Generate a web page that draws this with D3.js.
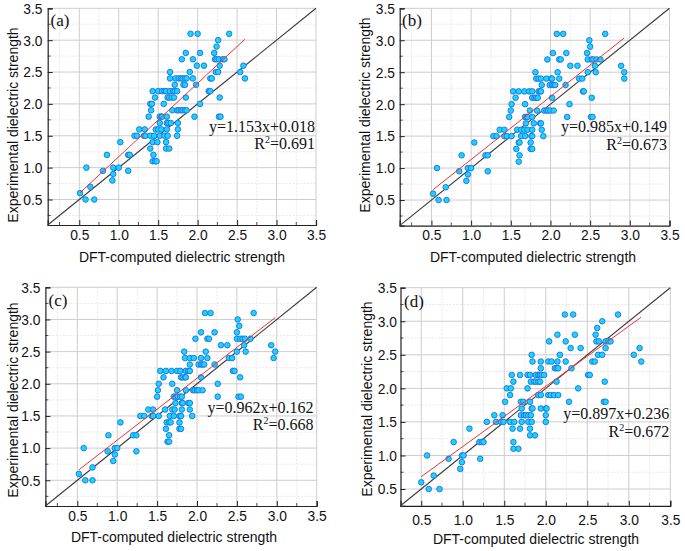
<!DOCTYPE html>
<html><head><meta charset="utf-8">
<script src="https://cdn.jsdelivr.net/npm/d3@7"></script>
<style>
body{margin:0;background:#fff;}
svg{display:block;}
</style></head>
<body>
<svg id="chart" width="685" height="551"></svg>
<script>
// ---------------- DATA ----------------
const panelLabels = ["(a)", "(b)", "(c)", "(d)"];
const tickValues = [0.5, 1.0, 1.5, 2.0, 2.5, 3.0, 3.5];
const tickLabels = ["0.5", "1.0", "1.5", "2.0", "2.5", "3.0", "3.5"];
const xTitle = "DFT-computed dielectric strength";
const yTitle = "Experimental dielectric strength";
const fitSlopes = [1.153, 0.985, 0.962, 0.897];
const fitIntercepts = [0.018, 0.149, 0.162, 0.236];
const fitEquations = ["y=1.153x+0.018", "y=0.985x+0.149", "y=0.962x+0.162", "y=0.897x+0.236"];
const fitR2 = ["0.691", "0.673", "0.668", "0.672"];

const pointsA = [
[0.51,0.6],[0.58,0.5],[0.59,1.0],[0.64,0.7],[0.69,0.5],[0.80,0.95],[0.85,1.2],[0.92,0.8],[0.93,0.9],[0.93,1.0],
[1.00,1.0],[1.02,1.4],[1.12,1.2],[1.14,1.2],[1.12,0.95],[1.20,1.5],[1.23,1.5],[1.26,1.6],[1.32,1.5],[1.34,1.5],
[1.33,1.6],[1.38,1.8],[1.40,2.0],[1.42,2.0],[1.41,1.9],[1.40,1.5],[1.40,1.3],[1.43,1.4],[1.43,2.2],[1.43,1.1],
[1.46,1.1],[1.48,1.1],[1.44,1.2],[1.45,1.5],[1.46,2.1],[1.47,1.6],[1.50,1.6],[1.49,1.4],[1.50,2.2],[1.52,1.8],
[1.54,1.8],[1.55,1.8],[1.52,1.5],[1.52,1.7],[1.54,1.6],[1.55,2.2],[1.57,2.0],[1.58,2.2],[1.60,2.2],[1.58,1.5],
[1.60,1.4],[1.60,1.3],[1.61,1.8],[1.61,1.7],[1.63,1.7],[1.61,1.6],[1.62,1.5],[1.62,2.1],[1.64,2.1],[1.64,1.3],
[1.65,2.4],[1.65,2.5],[1.65,2.2],[1.66,1.7],[1.67,2.1],[1.70,2.1],[1.68,1.9],[1.69,2.2],[1.71,2.2],[1.74,2.2],
[1.71,2.3],[1.72,2.4],[1.74,1.9],[1.76,1.9],[1.79,1.9],[1.81,1.9],[1.84,1.9],[1.86,1.9],[1.74,1.5],[1.75,1.6],
[1.75,1.7],[1.76,2.4],[1.79,2.4],[1.81,2.4],[1.84,2.4],[1.86,2.4],[1.80,2.7],[1.82,2.3],[1.84,2.3],[1.85,2.1],
[1.85,2.8],[1.90,2.5],[1.91,3.1],[1.94,2.7],[1.94,2.4],[1.96,1.8],[1.99,2.6],[1.98,2.3],[2.00,3.1],[2.03,2.8],
[2.03,2.0],[2.08,2.6],[2.14,2.2],[2.16,2.2],[2.16,2.4],[2.18,2.4],[2.21,2.8],[2.22,2.7],[2.24,2.7],[2.24,2.9],
[2.23,2.5],[2.26,2.5],[2.26,3.0],[2.27,2.7],[2.28,2.6],[2.28,2.1],[2.27,1.8],[2.29,1.8],[2.32,2.7],[2.34,2.7],
[2.40,3.1],[2.54,2.5],[2.58,2.6],[2.60,2.4]
];
const pointsB = [
[0.52,0.6],[0.57,1.0],[0.59,0.5],[0.68,0.7],[0.69,0.5],[0.85,0.95],[0.88,1.2],[0.94,0.8],[0.96,0.9],[0.96,1.0],
[1.00,1.0],[1.04,1.4],[1.18,1.2],[1.21,1.2],[1.21,0.95],[1.28,1.5],[1.32,1.5],[1.36,1.6],[1.42,1.6],[1.42,1.5],
[1.45,1.5],[1.48,1.8],[1.50,1.9],[1.51,2.0],[1.53,2.2],[1.51,1.5],[1.56,2.1],[1.57,1.3],[1.58,1.6],[1.60,2.2],
[1.60,1.4],[1.61,1.4],[1.60,1.1],[1.61,1.2],[1.63,1.5],[1.63,1.6],[1.67,2.2],[1.68,2.0],[1.67,1.6],[1.68,1.8],
[1.70,1.8],[1.71,1.8],[1.68,1.5],[1.69,1.7],[1.71,1.6],[1.73,2.2],[1.74,1.9],[1.76,1.5],[1.77,1.5],[1.75,1.4],
[1.75,1.3],[1.77,1.3],[1.77,1.8],[1.77,2.1],[1.80,2.1],[1.82,2.1],[1.84,2.1],[1.77,2.2],[1.77,1.6],[1.79,1.7],
[1.81,2.5],[1.82,2.4],[1.85,2.4],[1.83,1.9],[1.85,2.2],[1.87,2.2],[1.88,2.2],[1.87,1.7],[1.88,1.7],[1.88,2.4],
[1.89,2.3],[1.89,1.6],[1.91,1.5],[1.92,1.9],[1.95,1.9],[1.97,1.9],[2.00,1.9],[2.04,1.9],[1.95,2.4],[1.96,2.7],
[1.99,2.3],[2.02,2.3],[2.04,2.3],[2.06,2.3],[2.01,2.4],[2.02,2.4],[2.02,2.1],[2.03,2.8],[2.08,3.1],[2.09,2.5],
[2.11,2.7],[2.13,2.7],[2.11,2.4],[2.16,3.1],[2.19,2.3],[2.20,2.8],[2.21,1.8],[2.24,2.0],[2.25,2.6],[2.34,2.6],
[2.36,2.4],[2.40,2.4],[2.41,2.2],[2.42,2.2],[2.46,2.8],[2.47,2.7],[2.47,2.5],[2.49,3.0],[2.50,2.9],[2.52,2.7],
[2.54,2.7],[2.52,2.1],[2.51,1.8],[2.53,1.8],[2.56,2.6],[2.57,2.5],[2.58,2.7],[2.63,2.7],[2.69,3.1],[2.89,2.6],
[2.93,2.5],[2.93,2.4]
];
const pointsC = [
[0.52,0.6],[0.58,1.0],[0.60,0.5],[0.69,0.7],[0.69,0.5],[0.88,0.95],[0.89,1.2],[0.95,0.8],[0.97,0.9],[0.97,1.0],
[1.00,1.0],[1.04,1.4],[1.20,1.2],[1.24,1.2],[1.24,0.95],[1.29,1.5],[1.34,1.5],[1.39,1.6],[1.43,1.5],[1.45,1.5],
[1.45,1.6],[1.50,1.8],[1.51,1.9],[1.52,2.0],[1.54,2.2],[1.52,1.5],[1.58,2.1],[1.60,1.6],[1.61,2.2],[1.61,1.3],
[1.62,1.4],[1.65,1.4],[1.63,1.1],[1.65,1.1],[1.65,1.2],[1.66,1.5],[1.67,1.4],[1.68,2.2],[1.69,2.0],[1.69,1.6],
[1.72,1.6],[1.71,1.8],[1.73,1.8],[1.71,1.5],[1.73,1.7],[1.75,2.2],[1.75,1.9],[1.76,1.8],[1.79,1.8],[1.81,1.8],
[1.78,1.5],[1.80,1.5],[1.78,1.4],[1.78,1.3],[1.80,1.3],[1.79,2.2],[1.80,2.1],[1.82,2.1],[1.85,2.1],[1.86,2.1],
[1.81,1.6],[1.81,1.7],[1.82,1.7],[1.84,2.5],[1.85,2.4],[1.86,1.9],[1.86,2.2],[1.89,2.2],[1.91,2.2],[1.89,1.7],
[1.91,1.7],[1.91,2.4],[1.91,2.3],[1.91,1.6],[1.94,1.5],[1.96,2.4],[1.95,1.9],[1.97,1.9],[2.00,1.9],[2.02,1.9],
[2.07,1.9],[1.98,2.7],[2.02,2.3],[2.05,2.3],[2.07,2.3],[2.09,2.3],[2.05,2.4],[2.05,2.1],[2.05,2.8],[2.10,3.1],
[2.11,2.5],[2.13,2.7],[2.15,2.7],[2.13,2.4],[2.17,3.1],[2.22,2.3],[2.22,2.8],[2.26,2.0],[2.26,1.8],[2.30,2.6],
[2.38,2.6],[2.40,2.4],[2.44,2.4],[2.45,2.2],[2.47,2.2],[2.50,2.8],[2.50,2.7],[2.50,2.5],[2.51,3.0],[2.53,2.9],
[2.54,2.7],[2.57,2.7],[2.54,2.1],[2.52,1.8],[2.55,1.8],[2.59,2.6],[2.61,2.5],[2.60,2.7],[2.67,2.7],[2.71,3.1],
[2.93,2.6],[2.96,2.4],[2.98,2.5]
];
const pointsD = [
[0.50,0.6],[0.57,1.0],[0.59,0.5],[0.65,0.7],[0.72,0.5],[0.83,0.95],[0.89,1.2],[0.97,0.8],[0.99,0.9],[0.99,1.0],
[1.01,1.0],[1.08,1.4],[1.20,1.2],[1.23,1.2],[1.25,1.2],[1.21,0.95],[1.29,1.5],[1.38,1.6],[1.40,1.5],[1.46,1.5],
[1.49,1.5],[1.48,1.6],[1.51,1.8],[1.53,2.0],[1.57,1.5],[1.57,1.9],[1.58,2.0],[1.59,2.2],[1.60,1.4],[1.61,1.2],
[1.61,1.1],[1.61,2.1],[1.62,1.5],[1.67,1.1],[1.69,2.2],[1.69,1.4],[1.70,1.8],[1.73,1.8],[1.70,1.6],[1.71,1.5],
[1.71,1.7],[1.74,1.6],[1.76,1.6],[1.79,1.6],[1.78,2.0],[1.78,2.2],[1.79,1.5],[1.81,2.2],[1.81,1.8],[1.81,1.4],
[1.81,1.3],[1.82,2.1],[1.83,1.7],[1.84,1.7],[1.82,1.6],[1.83,1.5],[1.83,2.5],[1.84,2.4],[1.86,2.1],[1.88,2.1],
[1.87,1.3],[1.88,2.2],[1.91,2.2],[1.93,2.2],[1.95,2.2],[1.98,2.2],[1.91,1.9],[1.94,1.9],[1.91,2.1],[1.93,2.1],
[1.94,2.3],[1.94,2.4],[1.94,1.7],[2.00,1.7],[2.01,1.7],[2.00,1.6],[2.00,1.5],[2.03,1.9],[2.06,1.9],[2.03,2.4],
[2.07,2.4],[2.04,2.7],[2.10,1.9],[2.15,1.9],[2.11,2.3],[2.13,2.3],[2.15,2.3],[2.13,2.1],[2.14,2.4],[2.14,2.8],
[2.17,2.5],[2.23,3.1],[2.24,2.4],[2.24,2.7],[2.28,1.8],[2.30,2.6],[2.31,2.3],[2.33,3.1],[2.35,2.8],[2.39,2.0],
[2.42,2.6],[2.51,2.2],[2.53,2.2],[2.56,2.4],[2.59,2.4],[2.60,2.8],[2.61,2.7],[2.64,2.7],[2.62,2.9],[2.63,2.5],
[2.68,3.0],[2.68,2.5],[2.71,2.1],[2.70,1.8],[2.72,1.8],[2.72,2.6],[2.72,2.7],[2.75,2.7],[2.78,2.7],[2.87,3.1],
[3.06,2.5],[3.13,2.6],[3.15,2.4]
];
const allPoints = [pointsA, pointsB, pointsC, pointsD];

// ---------------- LAYOUT ----------------
const panels = [
  {x0:47.7, x1:316, y0:8.3, y1:225, dmin:0.1, ytx:42.5, xtl:240, ytitX:13.5, ytitY:125, xtitX:182, xtitY:262, eqX:315, eqY:131.5, lbX:50.5, lbY:25.5},
  {x0:399.7, x1:669.5, y0:8.3, y1:225.6, dmin:0.1, ytx:395, xtl:240, ytitX:365.5, ytitY:115, xtitX:533, xtitY:262, eqX:667, eqY:132, lbX:402, lbY:25.5},
  {x0:45.4, x1:316.7, y0:287.3, y1:506, dmin:0.1, ytx:40.5, xtl:521, ytitX:13, ytitY:400, xtitX:174, xtitY:542, eqX:313.5, eqY:412.5, lbX:48.5, lbY:306},
  {x0:400.5, x1:670.3, y0:287.7, y1:505.8, dmin:0.25, ytx:397, xtl:525, ytitX:367.5, ytitY:399, xtitX:536, xtitY:544, eqX:669.3, eqY:419, lbX:404, lbY:307}
];

const svg = d3.select("#chart");
const minorVals = d3.range(0.25, 3.51, 0.5);

panels.forEach((p, i) => {
  const xs = d3.scaleLinear().domain([p.dmin, 3.5]).range([p.x0, p.x1]);
  const ys = d3.scaleLinear().domain([p.dmin, 3.5]).range([p.y1, p.y0]);
  const g = svg.append("g");

  // minor grid
  const mv = minorVals.filter(v => v > p.dmin + 0.01);
  g.selectAll(".mgx").data(mv).enter().append("line")
    .attr("x1", d => xs(d)).attr("x2", d => xs(d)).attr("y1", p.y0).attr("y2", p.y1)
    .attr("stroke", "#e2e2e2").attr("stroke-width", 0.8).attr("stroke-dasharray", "2,1.5");
  g.selectAll(".mgy").data(mv).enter().append("line")
    .attr("y1", d => ys(d)).attr("y2", d => ys(d)).attr("x1", p.x0).attr("x2", p.x1)
    .attr("stroke", "#e2e2e2").attr("stroke-width", 0.8).attr("stroke-dasharray", "2,1.5");
  // major grid
  g.selectAll(".gx").data(tickValues).enter().append("line")
    .attr("x1", d => xs(d)).attr("x2", d => xs(d)).attr("y1", p.y0).attr("y2", p.y1)
    .attr("stroke", "#cdcdcd").attr("stroke-width", 1);
  g.selectAll(".gy").data(tickValues).enter().append("line")
    .attr("y1", d => ys(d)).attr("y2", d => ys(d)).attr("x1", p.x0).attr("x2", p.x1)
    .attr("stroke", "#cdcdcd").attr("stroke-width", 1);

  // axes with inward ticks
  const xAxis = d3.axisBottom(xs).tickValues(tickValues).tickFormat((d, k) => tickLabels[k]).tickSize(-5).tickPadding(0);
  const yAxis = d3.axisLeft(ys).tickValues(tickValues).tickFormat((d, k) => tickLabels[k]).tickSize(-5).tickPadding(0);
  const gx = g.append("g").attr("transform", `translate(0,${p.y1})`).call(xAxis);
  const gy = g.append("g").attr("transform", `translate(${p.x0},0)`).call(yAxis);
  [gx, gy].forEach(a => {
    a.select(".domain").attr("stroke", "#222").attr("stroke-width", 1.2);
    a.selectAll(".tick line").attr("stroke", "#222").attr("stroke-width", 1);
    a.selectAll("text").attr("font-family", "Liberation Sans, Arial, sans-serif").attr("font-size", 13.8).attr("fill", "#111");
  });
  gx.selectAll("text").attr("y", p.xtl - p.y1).attr("dy", 0);
  gy.selectAll("text").attr("x", p.ytx - p.x0).attr("dy", "0.35em");
  // minor ticks
  g.selectAll(".mtx").data(mv).enter().append("line")
    .attr("x1", d => xs(d)).attr("x2", d => xs(d)).attr("y1", p.y1).attr("y2", p.y1 - 3)
    .attr("stroke", "#222").attr("stroke-width", 0.8);
  g.selectAll(".mty").data(mv).enter().append("line")
    .attr("y1", d => ys(d)).attr("y2", d => ys(d)).attr("x1", p.x0).attr("x2", p.x0 + 3)
    .attr("stroke", "#222").attr("stroke-width", 0.8);

  // diagonal y=x
  g.append("line").attr("x1", xs(p.dmin)).attr("y1", ys(p.dmin)).attr("x2", xs(3.5)).attr("y2", ys(3.5))
    .attr("stroke", "#3a3a3a").attr("stroke-width", 1.1);

  // points
  const pts = allPoints[i];
  g.selectAll(".pt").data(pts).enter().append("circle")
    .attr("cx", d => xs(d[0])).attr("cy", d => ys(d[1])).attr("r", 2.8)
    .attr("fill", "#10d8ff").attr("stroke", "#2a6ae0").attr("stroke-width", 0.9);

  // fit line
  const ext = d3.extent(pts, d => d[0]);
  g.append("line")
    .attr("x1", xs(ext[0])).attr("y1", ys(fitSlopes[i] * ext[0] + fitIntercepts[i]))
    .attr("x2", xs(ext[1])).attr("y2", ys(fitSlopes[i] * ext[1] + fitIntercepts[i]))
    .attr("stroke", "#f03030").attr("stroke-width", 1);

  // annotations
  const serif = "Liberation Serif, Times New Roman, serif";
  g.append("text").attr("x", p.eqX).attr("y", p.eqY).attr("text-anchor", "end")
    .attr("font-family", serif).attr("font-size", 16).attr("fill", "#111").text(fitEquations[i]);
  const r2 = g.append("text").attr("x", p.eqX).attr("y", p.eqY + 17.5).attr("text-anchor", "end")
    .attr("font-family", serif).attr("font-size", 16).attr("fill", "#111");
  r2.append("tspan").text("R");
  r2.append("tspan").attr("font-size", 10).attr("dy", -6).text("2");
  r2.append("tspan").attr("dy", 6).text("=" + fitR2[i]);

  g.append("text").attr("x", p.lbX).attr("y", p.lbY)
    .attr("font-family", serif).attr("font-size", 17).attr("fill", "#111").text(panelLabels[i]);

  // axis titles
  g.append("text").attr("x", p.xtitX).attr("y", p.xtitY).attr("text-anchor", "middle")
    .attr("font-family", "Liberation Sans, Arial, sans-serif").attr("font-size", 14).attr("fill", "#111").text(xTitle);
  g.append("text").attr("transform", `translate(${p.ytitX},${p.ytitY}) rotate(-90)`).attr("text-anchor", "middle")
    .attr("dy", "0.35em")
    .attr("font-family", "Liberation Sans, Arial, sans-serif").attr("font-size", 14).attr("fill", "#111").text(yTitle);
});
</script>
</body></html>
